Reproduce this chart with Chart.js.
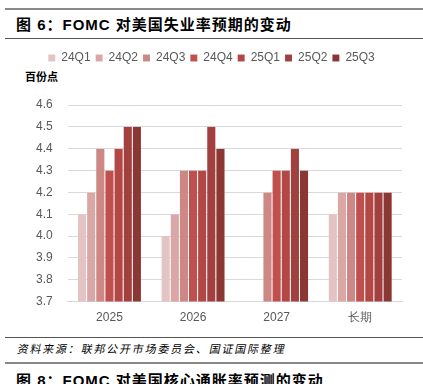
<!DOCTYPE html>
<html><head><meta charset="utf-8">
<script src="https://cdn.jsdelivr.net/npm/chart.js@4/dist/chart.umd.min.js"></script>
<style>
html,body{margin:0;padding:0;background:#fff;width:423px;height:384px;overflow:hidden;position:relative;font-family:"Noto Sans CJK SC",sans-serif;}
.line{position:absolute;left:5px;right:0;}
#title{position:absolute;left:16px;top:13px;font-size:15px;font-weight:bold;letter-spacing:1px;color:#000;white-space:nowrap;font-family:"Liberation Sans","Noto Sans CJK SC",sans-serif;}
#title2{position:absolute;left:16px;top:369px;font-size:15px;font-weight:bold;letter-spacing:1px;color:#000;white-space:nowrap;font-family:"Liberation Sans","Noto Sans CJK SC",sans-serif;}
#unit{position:absolute;left:25px;top:68px;font-size:11px;font-weight:bold;color:#000;}
#src{position:absolute;left:16px;top:340px;font-size:11px;color:#000;letter-spacing:1.8px;transform:skewX(-12deg);transform-origin:left bottom;}
#wrap{position:absolute;left:0;top:44px;width:423px;height:282px;}
</style></head><body>
<div class="line" style="top:8px;height:2px;background:#888;"></div>
<div id="title">图 6：FOMC 对美国失业率预期的变动</div>
<div class="line" style="top:38px;height:1px;background:#555;"></div>
<div id="unit">百份点</div>
<div id="wrap"><canvas id="c"></canvas></div>
<div class="line" style="top:337px;height:1px;background:#555;"></div>
<div id="src">资料来源：联邦公开市场委员会、国证国际整理</div>
<div class="line" style="top:362px;height:2px;background:#888;"></div>
<div id="title2">图 8：FOMC 对美国核心通胀率预测的变动</div>
<script>
const categories = ["2025", "2026", "2027", "长期"];
const seriesNames = ["24Q1", "24Q2", "24Q3", "24Q4", "25Q1", "25Q2", "25Q3"];
const s24Q1 = [4.1, 4.0, null, 4.1];
const s24Q2 = [4.2, 4.1, null, 4.2];
const s24Q3 = [4.4, 4.3, 4.2, 4.2];
const s24Q4 = [4.3, 4.3, 4.3, 4.2];
const s25Q1 = [4.4, 4.3, 4.3, 4.2];
const s25Q2 = [4.5, 4.5, 4.4, 4.2];
const s25Q3 = [4.5, 4.4, 4.3, 4.2];
const yTicks = [3.7, 3.8, 3.9, 4.0, 4.1, 4.2, 4.3, 4.4, 4.5, 4.6];

const seriesValues = [s24Q1, s24Q2, s24Q3, s24Q4, s25Q1, s25Q2, s25Q3];
const colors = ["#e3c3c3", "#daa6a6", "#cd8784", "#c0504d", "#b34745", "#a1403e", "#8b3734"];

new Chart(document.getElementById('c'), {
  type: 'bar',
  data: {
    labels: categories,
    datasets: seriesNames.map((n, i) => ({
      label: n, data: seriesValues[i], backgroundColor: colors[i],
      borderColor: 'rgba(255,255,255,0.35)', borderWidth: {left:0.5,right:0.5,top:0,bottom:0},
      barPercentage: 1.0, categoryPercentage: 0.765
    }))
  },
  options: {
    responsive: true, maintainAspectRatio: false, animation: false,
    layout: { padding: { left: 21, right: 21, top: 3, bottom: 0 } },
    plugins: {
      legend: {
        position: 'top',
        labels: { boxWidth: 7, boxHeight: 7, padding: 5, color: '#595959', font: { family: 'Liberation Sans', size: 12 } }
      },
      tooltip: { enabled: false }
    },
    scales: {
      x: {
        grid: { display: false },
        border: { color: '#d9d9d9' },
        ticks: { color: '#595959', font: { family: 'Liberation Sans', size: 12 }, padding: 1 }
      },
      y: {
        min: 3.7, max: 4.6,
        afterBuildTicks: (ax) => { ax.ticks = yTicks.map(v => ({ value: v })); },
        grid: { color: '#d9d9d9', drawTicks: false },
        border: { display: false },
        ticks: { color: '#595959', font: { family: 'Liberation Sans', size: 12 }, padding: 15, callback: v => Number(v).toFixed(1) }
      }
    }
  },
  plugins: [{
    id: 'legendSpace',
    beforeInit(chart) {
      const fit = chart.legend.fit;
      chart.legend.fit = function() { fit.bind(chart.legend)(); this.height += 31; };
    }
  }]
});
</script>
</body></html>
